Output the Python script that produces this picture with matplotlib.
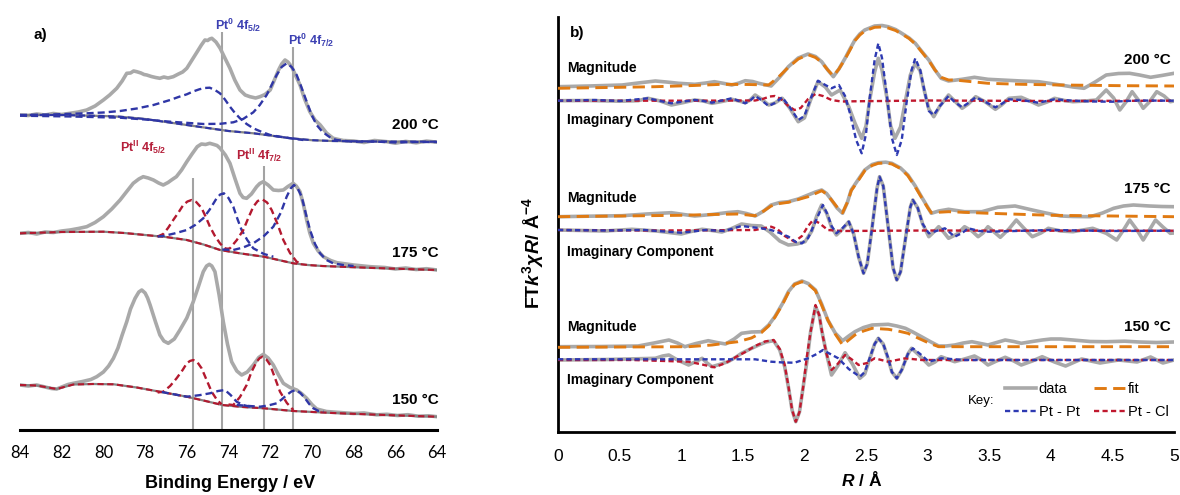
import numpy as np
import matplotlib
matplotlib.use("Agg")
import matplotlib.pyplot as plt
from matplotlib.lines import Line2D

plt.rcParams['font.family'] = ['Liberation Sans', 'DejaVu Sans']
plt.rcParams['mathtext.fontset'] = 'custom'
plt.rcParams['mathtext.rm'] = 'Liberation Sans:bold'
plt.rcParams['mathtext.bf'] = 'Liberation Sans:bold'
plt.rcParams['mathtext.it'] = 'Liberation Sans:italic:bold'

# -------------------------------------------
# a) XPS Pt 4f  -  [binding energy (eV), intensity (a.u.)]
# -------------------------------------------
xps_200_data = [(84.0,315),(83.6,314.5),(83.2,316),(82.8,315),(82.4,316.5),(82.0,315.5),(81.6,316.7),(81.2,318),(80.8,320),(80.4,324),(80.0,330),(79.7,335),(79.36,341.7),(79.1,349),(78.88,356.7),(78.7,357),(78.55,359),(78.4,358.3),(78.2,357),(78.05,355.5),(77.92,355),(77.7,353.5),(77.5,352.5),(77.29,351.7),(77.1,353),(76.9,352),(76.65,353.3),(76.4,356),(76.2,358),(76.0,361.7),(75.75,370),(75.5,378.3),(75.3,385),(75.13,390),(75.0,389.5),(74.9,391),(74.8,391.7),(74.6,388),(74.4,381.7),(74.15,371),(73.93,361.7),(73.7,350),(73.45,340),(73.2,335),(72.97,333.3),(72.7,332),(72.49,333.3),(72.25,335.5),(72.0,340),(71.8,350),(71.6,360),(71.45,366),(71.29,370),(71.15,368),(70.97,363.3),(70.77,354),(70.57,345),(70.35,331),(70.1,318.3),(69.85,310),(69.6,305),(69.3,297),(68.98,291.7),(68.5,289.5),(68.0,289),(67.5,287.5),(67.0,289.5),(66.4,288.3),(66.0,286.8),(65.5,288.6),(65.0,287.2),(64.5,288.9),(64.0,287.8)]
xps_200_bg = [(84.0,315),(82.0,315),(80.0,314),(79.2,313.3),(78.0,311),(77.0,308),(76.0,305),(75.0,302),(74.0,299),(72.8,296.7),(72.0,294.5),(71.0,291.7),(70.0,289.8),(69.0,289),(67.0,288.5),(64.0,288.3)]
xps_200_pt0_52 = [(84.0,315),(82.5,315.5),(80.8,316.7),(80.0,317.5),(79.2,319),(78.4,321.5),(77.6,325),(76.8,330),(76.4,333),(76.0,335.7),(75.7,338.5),(75.4,340.7),(75.15,342),(74.9,342.3),(74.65,340),(74.41,336.7),(74.17,330.5),(73.93,323.3),(73.69,317),(73.45,311.7),(73.13,306),(72.81,301.7),(72.4,298),(72.0,295),(71.6,293.5),(71.21,292.3),(70.8,291),(70.41,290)]
xps_200_pt0_72 = [(84.0,314.3),(81.5,313.5),(79.2,312.3),(78.0,310.5),(76.8,308.3),(75.2,306),(74.4,306.2),(73.77,307.7),(73.3,311),(72.81,317.7),(72.5,325),(72.17,335),(71.93,345),(71.69,355),(71.45,363),(71.21,366.7),(70.97,363),(70.73,355),(70.49,342),(70.25,328.3),(70.01,315),(69.77,305),(69.53,299),(69.29,295),(69.05,291.5),(68.81,290),(68.4,289),(68.0,288.3),(67.0,288.5),(66.0,287.5),(65.0,288),(64.0,288)]

xps_175_data = [(84.0,196.7),(83.6,197.5),(83.2,196),(82.8,198),(82.4,197.5),(82.0,199),(81.6,200),(81.2,201.5),(80.8,203.3),(80.4,207.5),(80.0,213.3),(79.6,221),(79.2,230),(78.9,238),(78.57,246.7),(78.3,251),(78.09,253.3),(77.85,252),(77.6,250),(77.35,247),(77.13,245),(76.9,247.5),(76.7,250.5),(76.5,253.3),(76.25,260),(76.0,268.3),(75.75,276),(75.5,283.3),(75.3,286),(75.1,285.5),(74.9,286.7),(74.7,285.5),(74.55,284.5),(74.4,281.7),(74.15,275),(73.93,266.7),(73.7,252),(73.45,236.7),(73.3,232.5),(73.13,231.7),(72.9,236),(72.65,243.3),(72.5,246.5),(72.33,248.3),(72.1,245),(71.85,240),(71.6,239.5),(71.37,240),(71.15,243.5),(70.9,246.7),(70.75,244),(70.57,238.3),(70.4,225),(70.25,210),(70.1,197),(69.93,186.7),(69.7,179),(69.45,173.3),(69.1,169.5),(68.8,167.3),(68.0,165),(67.2,163.3),(66.5,162.5),(66.0,161),(65.5,162),(65.0,160.5),(64.5,161.3),(64.0,160)]
xps_175_bg = [(84.0,196.7),(82.0,198),(80.0,198.3),(79.0,197),(78.0,195),(77.0,193),(76.0,190),(75.2,185.5),(74.4,180),(73.4,176.5),(72.3,173.3),(71.6,170),(70.9,166.7),(70.2,165),(69.5,164),(67.0,162),(64.0,160)]
xps_175_pt2_52 = [(77.4,193.5),(77.13,196),(76.9,202),(76.65,210),(76.4,217.5),(76.17,225),(75.97,228.5),(75.77,230),(75.55,228),(75.29,222),(75.1,213.5),(74.89,203.3),(74.65,194),(74.41,186.7),(74.2,182),(74.01,180.7)]
xps_175_pt0_52 = [(77.4,193.5),(77.13,194),(76.6,196.5),(76.0,200),(75.6,205),(75.21,211.7),(74.9,220.5),(74.57,231.7),(74.4,235.5),(74.22,236.7),(74.0,232),(73.77,223.3),(73.57,211),(73.37,200),(73.1,190),(72.81,181.7),(72.3,176),(71.85,173.3)]
xps_175_pt2_72 = [(74.2,180.5),(73.93,181.7),(73.6,190),(73.29,200),(73.05,212),(72.81,223.3),(72.6,229),(72.38,230.7),(72.15,227.5),(71.93,220),(71.65,206),(71.37,190),(71.05,177),(70.73,168.3),(70.5,166)]
xps_175_pt0_72 = [(74.3,180.5),(73.77,180),(73.3,182.5),(72.81,186.7),(72.3,194),(71.85,203.3),(71.5,217),(71.21,233.3),(71.02,241.5),(70.86,245),(70.68,241.5),(70.49,233.3),(70.3,217),(70.09,200),(69.85,186),(69.61,176.7),(69.3,170),(68.98,166.7),(68.5,165),(68.0,164)]

xps_150_data = [(84.0,45),(83.6,44),(83.2,45),(82.8,43),(82.5,41.5),(82.24,41),(82.0,43),(81.7,45.5),(81.44,46.7),(81.0,48.5),(80.6,50.5),(80.32,53.3),(80.0,58),(79.75,64),(79.52,71.7),(79.3,82),(79.1,95),(78.88,108.3),(78.7,121),(78.48,131.7),(78.3,138),(78.16,140),(78.0,137),(77.88,132),(77.76,125),(77.5,108),(77.29,95),(77.1,89),(76.89,86.7),(76.6,91),(76.33,100),(76.0,112),(75.69,128.3),(75.45,143),(75.21,158.3),(75.05,164),(74.92,165.7),(74.8,164),(74.65,158.3),(74.45,135),(74.25,108.3),(74.05,86),(73.85,68.3),(73.6,59),(73.37,55),(73.1,58),(72.81,65),(72.55,72.5),(72.33,75.7),(72.1,72),(71.85,65),(71.6,55),(71.37,46.7),(71.05,42.5),(70.73,40),(70.5,36.5),(70.25,31.7),(70.0,25.5),(69.77,21),(69.3,18.5),(68.8,17.7),(68.0,16.5),(67.5,17),(66.9,15.2),(66.4,15.7),(65.9,14.5),(65.4,15.3),(64.9,13.8),(64.4,14.2),(64.0,13.3)]
xps_150_bg = [(84.0,45),(83.2,44.5),(82.24,41),(81.44,45.5),(80.5,46),(79.5,45.7),(78.4,42.5),(77.3,38.3),(76.0,33.3),(75.1,29),(74.3,25),(73.3,23),(72.3,21.7),(70.9,19),(69.0,17),(66.5,15),(64.0,13.3)]
xps_150_pt2_52 = [(77.4,37.5),(77.13,38.3),(76.8,44),(76.49,51.7),(76.2,60),(76.0,66.7),(75.85,69),(75.69,70),(75.5,68),(75.29,61.7),(75.05,50),(74.81,38.3),(74.55,30),(74.33,25.7)]
xps_150_pt0_52 = [(77.2,38),(76.0,33.3),(75.4,34.8),(74.89,36.7),(74.5,39),(74.17,40),(73.9,35),(73.61,28.3),(73.3,25),(72.97,23.3)]
xps_150_pt2_72 = [(74.0,25.5),(73.77,25),(73.45,33),(73.13,45),(72.9,58),(72.65,68.3),(72.5,72),(72.36,73.3),(72.18,70.5),(72.0,65),(71.77,52),(71.53,38.3),(71.2,27),(70.89,20)]
xps_150_pt0_72 = [(73.61,25),(73.0,24),(72.49,23.3),(72.1,24.5),(71.69,26.7),(71.45,30.5),(71.21,35),(70.98,38.5),(70.76,40),(70.55,37),(70.33,31.7),(70.13,26),(69.93,21.7),(69.7,19.2),(69.45,18.3)]

peak_lines_be = [75.7, 74.3, 72.3, 70.9]
peak_lines_top = [252, 398, 264, 383]
be_ticks = [84, 82, 80, 78, 76, 74, 72, 70, 68, 66, 64]

# -------------------------------------------
# b) EXAFS FT  -  [R (A), offset FT value]
# -------------------------------------------
ft_200_mag = [(0.0,345.3),(0.25,346),(0.52,347),(0.65,349),(0.79,351),(0.88,350),(0.98,348.7),(1.11,347.7),(1.20,349),(1.27,350.3),(1.35,348.5),(1.41,347),(1.47,349),(1.52,351.3),(1.58,350.5),(1.63,348.7),(1.73,346),(1.80,355),(1.87,365.3),(1.95,374),(2.03,378),(2.09,375.5),(2.14,370.3),(2.19,362),(2.235,355.3),(2.28,363),(2.33,373.7),(2.37,383),(2.41,392),(2.45,398),(2.49,402),(2.57,406),(2.63,406.5),(2.68,405.3),(2.74,402.5),(2.79,398.7),(2.85,394),(2.90,388.7),(2.95,381),(3.01,372),(3.06,362),(3.11,353.7),(3.17,351),(3.28,352.7),(3.38,354.7),(3.49,352.7),(3.60,352),(3.76,351),(3.90,350.3),(4.08,347),(4.18,345),(4.27,343.7),(4.36,350),(4.45,357),(4.55,358.5),(4.64,358.7),(4.72,357),(4.81,354.7),(4.90,356.5),(5.0,358.7)]
ft_200_mag_fit = [(0.0,343.7),(0.4,344.5),(0.79,345.3),(1.10,346.5),(1.33,347.7),(1.55,347.5),(1.71,347),(1.79,355),(1.87,364.7),(1.95,373),(2.03,377.3),(2.09,374.5),(2.14,369.7),(2.19,362),(2.235,356),(2.28,363),(2.33,373),(2.37,382),(2.41,391.3),(2.45,397),(2.49,401),(2.57,404.7),(2.63,405),(2.68,404),(2.74,401.5),(2.79,398),(2.85,393.5),(2.90,388),(2.95,380.5),(3.01,371.3),(3.06,362),(3.11,354.7),(3.17,352),(3.22,352),(3.49,348.7),(3.76,347.7),(4.08,347),(4.59,346.3),(5.0,346)]
ft_200_im = [(0.0,331.3),(0.25,331.5),(0.50,330.8),(0.65,331.3),(0.73,333.7),(0.83,331),(0.92,327),(1.02,329.5),(1.11,332),(1.18,331),(1.25,328.7),(1.33,330.5),(1.41,332.7),(1.47,331),(1.52,329.3),(1.56,332),(1.60,337),(1.65,333),(1.71,327),(1.76,329),(1.82,333.7),(1.88,324),(1.95,310.3),(2.00,314),(2.05,332),(2.11,350.3),(2.17,345),(2.22,337),(2.29,342),(2.36,325.3),(2.41,309),(2.465,293.7),(2.50,306),(2.53,332),(2.57,360),(2.60,373.7),(2.63,362),(2.67,334),(2.70,306),(2.735,293.7),(2.78,305),(2.82,331),(2.86,357),(2.90,368.7),(2.94,361),(2.97,343),(3.01,323),(3.05,315.3),(3.10,326),(3.17,337),(3.22,331),(3.28,323.7),(3.33,328),(3.39,335.3),(3.47,330),(3.55,322.7),(3.60,327),(3.66,333.7),(3.76,334.7),(3.83,331),(3.90,327),(3.97,330),(4.03,333.7),(4.11,331.5),(4.18,330.3),(4.28,331),(4.37,332),(4.45,342),(4.51,334),(4.56,322),(4.61,330),(4.66,340.3),(4.71,332),(4.75,323.7),(4.80,330),(4.86,340.3),(4.92,336),(4.97,330.3),(5.0,331)]
ft_200_ptpt = [(0.0,331.3),(0.3,332),(0.5,331),(0.73,333.7),(0.83,331),(0.92,328.7),(1.02,330.5),(1.11,332),(1.18,331),(1.25,329.3),(1.33,331.5),(1.41,333.7),(1.47,331),(1.52,328.7),(1.56,331.5),(1.60,336),(1.65,332),(1.71,326),(1.76,329),(1.82,334.7),(1.88,325),(1.95,312),(2.00,316),(2.05,333),(2.11,351.3),(2.17,347),(2.22,343.7),(2.28,347),(2.33,336),(2.37,318.7),(2.42,292),(2.465,278.7),(2.50,298),(2.53,334),(2.57,372),(2.60,388.7),(2.63,374),(2.67,336),(2.71,294),(2.75,277),(2.79,292),(2.83,330),(2.87,362),(2.90,373.7),(2.94,362),(2.98,338),(3.01,321),(3.05,317),(3.10,326),(3.17,336),(3.22,330),(3.28,324.7),(3.33,329),(3.39,334.7),(3.47,330),(3.55,324.7),(3.60,328),(3.66,332.7),(3.76,332),(3.90,329.3),(4.03,332.7),(4.18,331.3),(4.35,330.5),(4.5,330.3),(4.7,331.5),(5.0,331.3)]
ft_200_ptcl = [(0.0,331.3),(1.0,331.3),(1.60,331.5),(1.66,333),(1.72,335.5),(1.76,336),(1.81,333),(1.87,326),(1.92,322),(1.97,324),(2.03,333),(2.09,338),(2.15,336),(2.22,332),(2.30,330.5),(2.40,330.7),(3.0,331.5),(4.0,331),(5.0,331.3)]

ft_175_mag = [(0.0,215.3),(0.25,215.8),(0.52,216.3),(0.72,218),(0.92,219.3),(1.02,217.5),(1.11,216),(1.25,217.5),(1.38,219.5),(1.46,220.3),(1.53,218.5),(1.60,216),(1.67,221),(1.73,227),(1.80,229.5),(1.87,230.3),(1.95,233),(2.03,237),(2.09,240),(2.14,242),(2.18,238.5),(2.22,232),(2.265,224),(2.31,218.7),(2.35,230),(2.38,242),(2.44,253),(2.49,262),(2.55,267.5),(2.60,269.3),(2.66,269.8),(2.71,268.7),(2.78,264),(2.84,257),(2.90,246),(2.95,235.3),(3.00,225),(3.03,218.7),(3.09,221),(3.17,222.7),(3.30,220.3),(3.44,220.3),(3.57,224.7),(3.71,226),(3.85,222),(3.96,219),(4.08,216),(4.18,215.5),(4.32,215.3),(4.42,219),(4.51,223.7),(4.59,226),(4.67,227),(4.80,226),(4.90,225.5),(5.0,225.3)]
ft_175_mag_fit = [(0.0,215.3),(0.5,216),(1.0,216.7),(1.25,217.5),(1.46,218),(1.60,216.3),(1.67,221),(1.73,226),(1.80,228.5),(1.87,229.7),(1.95,232.5),(2.03,235.3),(2.09,238.5),(2.14,241.3),(2.18,238),(2.22,232),(2.265,225),(2.31,219.3),(2.35,230),(2.38,241.3),(2.44,252),(2.49,261.3),(2.55,266.5),(2.60,268.7),(2.66,269),(2.71,268),(2.78,263.5),(2.84,256.3),(2.90,245),(2.95,234.7),(3.00,224.5),(3.03,219.3),(3.17,220.3),(3.50,218.7),(4.0,216.7),(5.0,215.3)]
ft_175_im = [(0.0,202),(0.2,201.5),(0.38,201),(0.6,202.7),(0.8,201),(1.0,198),(1.08,200.5),(1.17,202.7),(1.25,201.5),(1.33,200),(1.41,203.5),(1.49,208),(1.57,206.5),(1.65,206),(1.72,200),(1.80,191),(1.87,187),(1.94,188),(2.005,190.3),(2.06,201),(2.10,216),(2.14,227),(2.18,219),(2.22,205),(2.26,197),(2.31,203),(2.36,210.3),(2.40,198),(2.44,175),(2.48,158.7),(2.51,168),(2.55,205),(2.59,244),(2.61,255.3),(2.64,246),(2.68,205),(2.72,164),(2.75,152),(2.78,160),(2.82,193),(2.86,225),(2.88,232),(2.92,224),(2.96,208),(3.01,195.3),(3.05,200),(3.09,205.3),(3.13,200),(3.17,193.7),(3.24,198),(3.30,205.3),(3.36,201),(3.41,195.3),(3.45,199),(3.49,205.3),(3.54,200),(3.59,194.7),(3.66,203),(3.72,212),(3.78,204),(3.85,195.3),(3.92,199),(3.98,203.7),(4.08,201),(4.18,200.3),(4.34,203.7),(4.45,198.7),(4.535,192),(4.59,202),(4.64,212),(4.70,202),(4.75,192),(4.80,202),(4.85,212),(4.91,205),(4.97,198.7),(5.0,199)]
ft_175_ptpt = [(0.0,202),(0.4,201.5),(0.7,202),(1.0,199.3),(1.2,202),(1.35,201),(1.49,206),(1.65,203.7),(1.73,202),(1.80,199),(1.87,195.3),(1.93,190),(1.98,188.7),(2.03,194),(2.06,202),(2.11,216),(2.15,227),(2.19,217),(2.22,206),(2.26,198.7),(2.31,204),(2.36,210.3),(2.40,198),(2.44,175),(2.48,158.7),(2.51,168),(2.55,205),(2.59,244),(2.61,255.3),(2.64,246),(2.68,205),(2.72,164),(2.75,152),(2.78,160),(2.82,193),(2.86,225),(2.88,232),(2.92,224),(2.96,208),(3.01,198.7),(3.07,201),(3.14,203.7),(3.22,195.3),(3.28,199),(3.33,203.7),(3.42,201),(3.5,200.3),(4.0,202),(4.5,201),(5.0,201.3)]
ft_175_ptcl = [(0.0,202),(0.8,201.5),(1.6,202),(1.68,204),(1.73,205.3),(1.78,203),(1.84,196),(1.92,190.3),(1.98,196),(2.03,206),(2.07,212),(2.12,209),(2.19,202),(2.30,201),(3.0,201.5),(4.0,201.3),(5.0,201.3)]

ft_150_mag = [(0.0,85.3),(0.35,85.5),(0.65,86),(0.78,89),(0.90,92),(0.97,89),(1.03,85.3),(1.12,88.5),(1.22,91.3),(1.29,89.5),(1.36,88),(1.43,93),(1.49,98.7),(1.57,100),(1.65,100.3),(1.71,107),(1.76,115.3),(1.82,128),(1.87,140.3),(1.92,148),(1.98,151),(2.03,148.5),(2.09,142),(2.14,128),(2.19,112),(2.25,99),(2.31,91.3),(2.36,96),(2.41,100.3),(2.48,104.5),(2.55,107),(2.68,107.7),(2.75,106),(2.82,103.7),(2.88,100),(2.95,95.3),(3.02,90.5),(3.09,86),(3.15,86),(3.22,87),(3.29,89),(3.36,90.3),(3.43,88.5),(3.49,87),(3.56,89.5),(3.63,92),(3.70,90.5),(3.76,88.7),(3.85,90.5),(3.93,92),(4.00,93),(4.08,93),(4.18,92),(4.32,90.5),(4.45,90.3),(4.60,90.8),(4.72,90),(4.86,89.5),(5.0,90)]
ft_150_mag_fit = [(0.0,84.7),(0.5,85),(1.06,85.3),(1.25,87),(1.46,90.3),(1.57,94),(1.65,99.3),(1.71,106),(1.76,114.7),(1.82,127),(1.87,139.3),(1.92,147.5),(1.98,150.3),(2.03,148),(2.09,141.3),(2.14,127),(2.19,112),(2.25,98),(2.31,87),(2.36,92),(2.41,97),(2.48,101),(2.55,103.7),(2.68,102.7),(2.76,101),(2.84,98.7),(2.93,93.5),(3.01,89),(3.09,85.3),(3.5,85.3),(4.0,85.3),(5.0,85.3)]
ft_150_im = [(0.0,72),(0.4,72.5),(0.79,73.7),(0.85,76),(0.90,77),(0.97,72),(1.06,67),(1.12,70.5),(1.17,73.7),(1.21,69),(1.25,65.3),(1.31,67.5),(1.38,70.3),(1.44,74.5),(1.49,78.7),(1.56,83),(1.63,87),(1.69,90),(1.75,91.3),(1.80,82),(1.84,65.3),(1.87,45),(1.90,22),(1.93,10.3),(1.96,20),(1.99,45),(2.02,70),(2.05,100),(2.09,125.3),(2.12,117),(2.14,102),(2.18,78),(2.22,57),(2.27,66),(2.33,79.3),(2.39,68),(2.45,53.7),(2.49,58),(2.53,73),(2.57,88),(2.60,93.7),(2.64,88),(2.68,73),(2.71,60),(2.75,53.7),(2.79,62),(2.84,78),(2.87,83.7),(2.93,77),(3.01,67),(3.06,70),(3.11,75.3),(3.16,73),(3.22,70.3),(3.30,73),(3.38,76),(3.44,72),(3.49,67),(3.56,71),(3.63,74.7),(3.70,71),(3.76,67),(3.85,71),(3.93,75.3),(4.03,70),(4.12,66),(4.25,73),(4.40,69),(4.55,72),(4.70,70),(4.81,75),(4.91,69),(5.0,72)]
ft_150_ptpt = [(0.0,72.7),(0.8,72.7),(1.60,72.7),(1.73,70.3),(1.83,69.5),(1.92,69.3),(2.03,73.7),(2.10,78),(2.15,82),(2.21,78),(2.275,73.7),(2.36,63),(2.45,55.3),(2.49,60),(2.53,74),(2.57,88),(2.60,93.7),(2.64,88),(2.68,74),(2.71,60),(2.75,53.7),(2.79,62),(2.84,78),(2.88,83.7),(2.94,78),(3.01,70.3),(3.11,73.7),(3.3,72),(5.0,72)]
ft_150_ptcl = [(0.0,72),(0.6,72),(1.06,70.3),(1.17,67.5),(1.27,64.7),(1.36,69),(1.44,74.7),(1.52,80),(1.60,86),(1.68,90.5),(1.75,92),(1.80,83),(1.84,67),(1.87,46),(1.90,22),(1.93,10.3),(1.96,20),(1.99,45),(2.02,75.3),(2.05,100),(2.09,127),(2.12,117),(2.15,95.3),(2.18,78),(2.22,62),(2.27,68),(2.33,77),(2.38,73),(2.44,67),(2.51,69),(2.57,73.7),(2.68,70.3),(2.82,73.7),(2.95,72),(4.0,72),(5.0,72)]

r_ticks = [0, 0.5, 1, 1.5, 2, 2.5, 3, 3.5, 4, 4.5, 5]
r_tick_labels = ['0', '0.5', '1', '1.5', '2', '2.5', '3', '3.5', '4', '4.5', '5']

# colours
GREY = '#a9a9a9'
BG_GREY = '#858585'
XPS_BLUE = '#2f36a6'
XPS_RED = '#b3192f'
TXT_BLUE = '#3c40b2'
TXT_RED = '#b51f3a'
ORANGE = '#e07a12'
FT_BLUE = '#2e3ab2'
FT_RED = '#c0182e'

W, H = 1180, 495


def xy(pairs):
    a = np.array(pairs, dtype=float)
    return a[:, 0], a[:, 1]


def fpos(x, y):
    # pixel position -> figure fraction
    return x / W, 1 - y / H


fig = plt.figure(figsize=(W / 100, H / 100), dpi=100)
ax1 = fig.add_axes([20 / W, 65 / H, 417 / W, 410 / H])
ax2 = fig.add_axes([558 / W, 63 / H, 616 / W, 415 / H])

# -------------------------------------------
# panel a
# -------------------------------------------
short_dash = (0, (3.0, 1.7))
ax1.vlines(peak_lines_be, 0, peak_lines_top, colors='#a3a3a3', lw=1.5, zorder=1)

for data, bg, comps in [
        (xps_200_data, xps_200_bg, [(xps_200_pt0_52, XPS_BLUE), (xps_200_pt0_72, XPS_BLUE)]),
        (xps_175_data, xps_175_bg, [(xps_175_pt2_52, XPS_RED), (xps_175_pt0_52, XPS_BLUE),
                                    (xps_175_pt2_72, XPS_RED), (xps_175_pt0_72, XPS_BLUE)]),
        (xps_150_data, xps_150_bg, [(xps_150_pt2_52, XPS_RED), (xps_150_pt0_52, XPS_BLUE),
                                    (xps_150_pt2_72, XPS_RED), (xps_150_pt0_72, XPS_BLUE)])]:
    ax1.plot(*xy(data), color=GREY, lw=2.6, zorder=2, solid_joinstyle='round')
    ax1.plot(*xy(bg), color=BG_GREY, lw=1.6, zorder=2)
    base_col = comps[0][1] if len(comps) == 2 else XPS_RED
    ax1.plot(*xy(bg), color=base_col, lw=1.5, ls=short_dash, zorder=3)
    for comp, col in comps:
        ax1.plot(*xy(comp), color=col, lw=1.7, ls=short_dash, zorder=3)

ax1.set_xlim(84, 64)
ax1.set_ylim(0, 410)
ax1.set_xticks(be_ticks)
ax1.set_xticklabels([str(t) for t in be_ticks], fontsize=12, family=['Lato', 'DejaVu Sans'])
ax1.set_yticks([])
ax1.tick_params(axis='x', length=0, pad=11)
for s in ['left', 'top', 'right']:
    ax1.spines[s].set_visible(False)
ax1.spines['bottom'].set_linewidth(2.2)
ax1.patch.set_alpha(0)

fig.text(*fpos(230, 484), 'Binding Energy / eV', ha='center', va='center',
         fontsize=13, fontweight='bold')
fig.text(*fpos(33, 35), 'a)', ha='left', va='center', fontsize=11, fontweight='bold')
fig.text(*fpos(238, 25), r'Pt$^{0}$ 4f$_{5/2}$', ha='center', va='center',
         fontsize=9, fontweight='bold', color=TXT_BLUE)
fig.text(*fpos(311, 40), r'Pt$^{0}$ 4f$_{7/2}$', ha='center', va='center',
         fontsize=9, fontweight='bold', color=TXT_BLUE)
fig.text(*fpos(143, 147), r'Pt$^{\mathrm{II}}$ 4f$_{5/2}$', ha='center', va='center',
         fontsize=9, fontweight='bold', color=TXT_RED)
fig.text(*fpos(259, 155), r'Pt$^{\mathrm{II}}$ 4f$_{7/2}$', ha='center', va='center',
         fontsize=9, fontweight='bold', color=TXT_RED)
for lbl, ypx in [('200 °C', 125), ('175 °C', 253), ('150 °C', 400)]:
    fig.text(*fpos(439, ypx), lbl, ha='right', va='center', fontsize=11, fontweight='bold')

# -------------------------------------------
# panel b
# -------------------------------------------
ft_dash = (0, (2.2, 1.4))
fit_dash = (0, (4.2, 2.2))
for mag, fit, im, ptpt, ptcl in [
        (ft_200_mag, ft_200_mag_fit, ft_200_im, ft_200_ptpt, ft_200_ptcl),
        (ft_175_mag, ft_175_mag_fit, ft_175_im, ft_175_ptpt, ft_175_ptcl),
        (ft_150_mag, ft_150_mag_fit, ft_150_im, ft_150_ptpt, ft_150_ptcl)]:
    ax2.plot(*xy(mag), color=GREY, lw=2.6, zorder=2)
    ax2.plot(*xy(im), color=GREY, lw=2.6, zorder=2)
    ax2.plot(*xy(fit), color=ORANGE, lw=2.1, ls=fit_dash, zorder=3)
    ax2.plot(*xy(ptcl), color=FT_RED, lw=1.7, ls=ft_dash, zorder=3)
    ax2.plot(*xy(ptpt), color=FT_BLUE, lw=1.7, ls=ft_dash, zorder=4)

ax2.set_xlim(0, 5)
ax2.set_ylim(0, 415)
ax2.set_xticks(r_ticks)
ax2.set_xticklabels(r_tick_labels, fontsize=12.5)
ax2.set_yticks([])
ax2.tick_params(axis='x', length=0, pad=12)
for s in ['top', 'right']:
    ax2.spines[s].set_visible(False)
for s in ['left', 'bottom']:
    ax2.spines[s].set_linewidth(2.0)
ax2.patch.set_alpha(0)

fig.text(*fpos(862, 480), r'$R$ / Å', ha='center', va='center', fontsize=12.5, fontweight='bold')
fig.text(*fpos(533, 253), r'FT$k^{3}\chi R$/ Å$^{-4}$', rotation=90, ha='center', va='center',
         fontsize=14, fontweight='bold')
fig.text(*fpos(570, 33), 'b)', ha='left', va='center', fontsize=11, fontweight='bold')
for ymag, yim in [(68, 120), (198, 252), (327, 380)]:
    fig.text(*fpos(567, ymag), 'Magnitude', ha='left', va='center', fontsize=10, fontweight='bold')
    fig.text(*fpos(567, yim), 'Imaginary Component', ha='left', va='center', fontsize=10,
             fontweight='bold')
for lbl, ypx in [('200 °C', 60), ('175 °C', 189), ('150 °C', 327)]:
    fig.text(*fpos(1171, ypx), lbl, ha='right', va='center', fontsize=11, fontweight='bold')

handles = [Line2D([], [], color=GREY, lw=2.6),
           Line2D([], [], color=FT_BLUE, lw=1.7, ls=ft_dash),
           Line2D([], [], color=ORANGE, lw=2.1, ls=fit_dash),
           Line2D([], [], color=FT_RED, lw=1.7, ls=ft_dash)]
ax2.legend(handles, ['data', 'Pt - Pt', 'fit', 'Pt - Cl'], ncol=2, frameon=False,
           loc='upper left', bbox_to_anchor=((1005 - 558) / 616, (432 - 382) / 415),
           fontsize=10.5, handlelength=2.1, handletextpad=0.2, columnspacing=1.0,
           labelspacing=0.6, borderpad=0, borderaxespad=0)
fig.text(*fpos(968, 401), 'Key:', ha='left', va='center', fontsize=9.5)

fig.savefig('out.png', dpi=100)
